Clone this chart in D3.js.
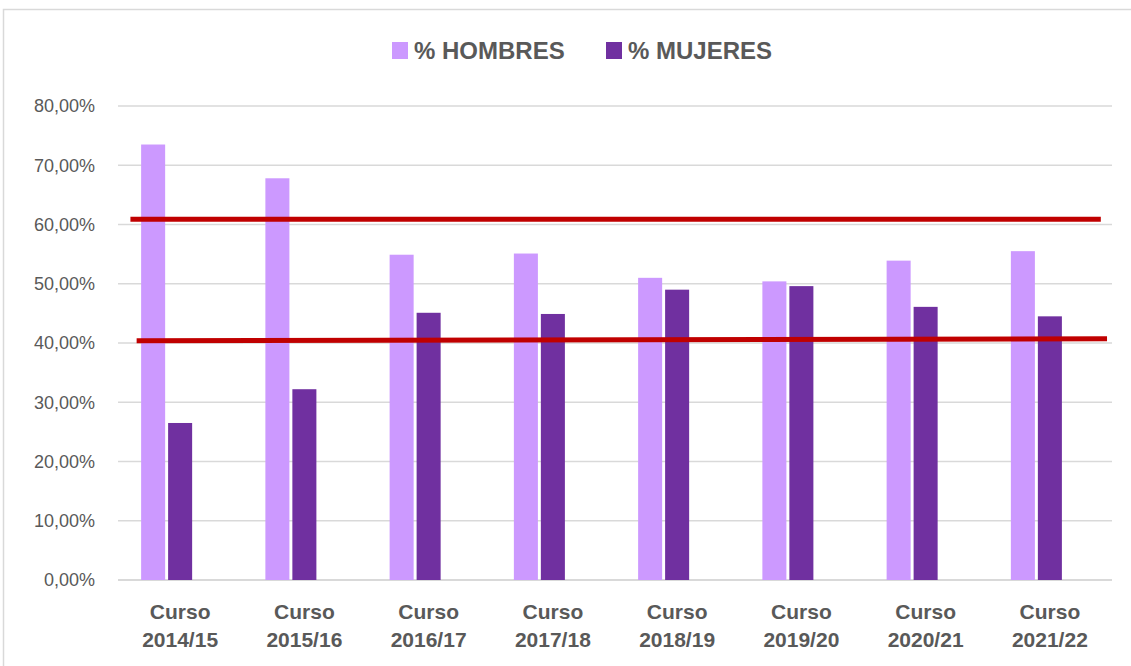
<!DOCTYPE html>
<html>
<head>
<meta charset="utf-8">
<script src="https://cdn.jsdelivr.net/npm/d3@7"></script>
<style>
  html, body { margin: 0; padding: 0; background: #fff; }
  svg { display: block; font-family: "Liberation Sans", Arial, sans-serif; }
</style>
</head>
<body>
<svg id="chart"></svg>
<script>
// data
const cursos = ["Curso 2014/15", "Curso 2015/16", "Curso 2016/17", "Curso 2017/18",
  "Curso 2018/19", "Curso 2019/20", "Curso 2020/21", "Curso 2021/22"];
const hombres = [73.5, 67.8, 54.9, 55.1, 51.0, 50.4, 53.9, 55.5];
const mujeres = [26.5, 32.2, 45.1, 44.9, 49.0, 49.6, 46.1, 44.5];
const yTicks = [0, 10, 20, 30, 40, 50, 60, 70, 80];
const series = [
  { key: "h", name: "% HOMBRES", values: hombres, color: "#cc99ff" },
  { key: "m", name: "% MUJERES", values: mujeres, color: "#7030a0" }
];
// hand-drawn red lines: start/end in category units, value in %
const redLines = [
  { x0: 0.1, x1: 7.91, v0: 60.9, v1: 60.9 },
  { x0: 0.15, x1: 7.96, v0: 40.4, v1: 40.7 }
];

const W = 1131, H = 666;
const margin = { top: 106, right: 19, bottom: 86, left: 118 };
const innerW = W - margin.left - margin.right;
const innerH = H - margin.top - margin.bottom;

const svg = d3.select("#chart").attr("width", W).attr("height", H);

// chart area border
svg.append("rect")
  .attr("x", 3.5).attr("y", 9.5)
  .attr("width", W + 10).attr("height", H + 10)
  .attr("fill", "none")
  .attr("stroke", "#d9d9d9")
  .attr("stroke-width", 1.5);

const g = svg.append("g")
  .attr("transform", `translate(${margin.left},${margin.top})`);

const x = d3.scaleBand().domain(cursos).range([0, innerW]).padding(0);
// third slot is an empty series, as in the original workbook
const x1 = d3.scaleBand().domain(["h", "m", "_"])
  .range([x.bandwidth() / 2 - 39, x.bandwidth() / 2 + 39])
  .paddingInner(0.11);
const y = d3.scaleLinear().domain([0, 80]).range([innerH, 0]);
const xi = d3.scaleLinear().domain([0, cursos.length]).range([0, innerW]);

// gridlines
g.append("g")
  .selectAll("line")
  .data(yTicks)
  .join("line")
  .attr("x1", 0).attr("x2", innerW)
  .attr("y1", d => y(d)).attr("y2", d => y(d))
  .attr("stroke", "#d9d9d9")
  .attr("stroke-width", d => d === 0 ? 2 : 1.5);

// y labels
g.append("g")
  .selectAll("text")
  .data(yTicks)
  .join("text")
  .attr("x", -23)
  .attr("y", d => y(d))
  .attr("dy", "0.36em")
  .attr("text-anchor", "end")
  .style("font-size", "18px")
  .attr("fill", "#595959")
  .text(d => d3.format(".2f")(d).replace(".", ",") + "%");

// bars
const groups = g.append("g")
  .selectAll("g")
  .data(cursos)
  .join("g")
  .attr("transform", d => `translate(${x(d)},0)`);

groups.selectAll("rect")
  .data((d, i) => series.map(s => ({ key: s.key, v: s.values[i], color: s.color })))
  .join("rect")
  .attr("x", d => x1(d.key))
  .attr("width", x1.bandwidth())
  .attr("y", d => y(d.v))
  .attr("height", d => y(0) - y(d.v))
  .attr("fill", d => d.color);

// x labels
const xl = g.append("g")
  .selectAll("text")
  .data(cursos)
  .join("text")
  .attr("x", d => x(d) + x.bandwidth() / 2)
  .attr("text-anchor", "middle")
  .style("font-size", "21px")
  .style("font-weight", 700)
  .attr("fill", "#595959");
xl.append("tspan").attr("x", d => x(d) + x.bandwidth() / 2).attr("y", innerH + 39)
  .text(d => d.split(" ")[0]);
xl.append("tspan").attr("x", d => x(d) + x.bandwidth() / 2).attr("y", innerH + 67)
  .text(d => d.split(" ")[1]);

// red reference lines
g.append("g")
  .selectAll("line")
  .data(redLines)
  .join("line")
  .attr("x1", d => xi(d.x0)).attr("x2", d => xi(d.x1))
  .attr("y1", d => y(d.v0)).attr("y2", d => y(d.v1))
  .attr("stroke", "#c00000")
  .attr("stroke-width", 5);

// legend
const legX = [392, 606];
const leg = svg.append("g")
  .selectAll("g")
  .data(series)
  .join("g")
  .attr("transform", (d, i) => `translate(${legX[i]},42)`);
leg.append("rect")
  .attr("width", 16).attr("height", 17)
  .attr("fill", d => d.color);
leg.append("text")
  .attr("x", 22).attr("y", 17)
  .style("font-size", "24px")
  .style("font-weight", 700)
  .attr("fill", "#595959")
  .text(d => d.name);
</script>
</body>
</html>
